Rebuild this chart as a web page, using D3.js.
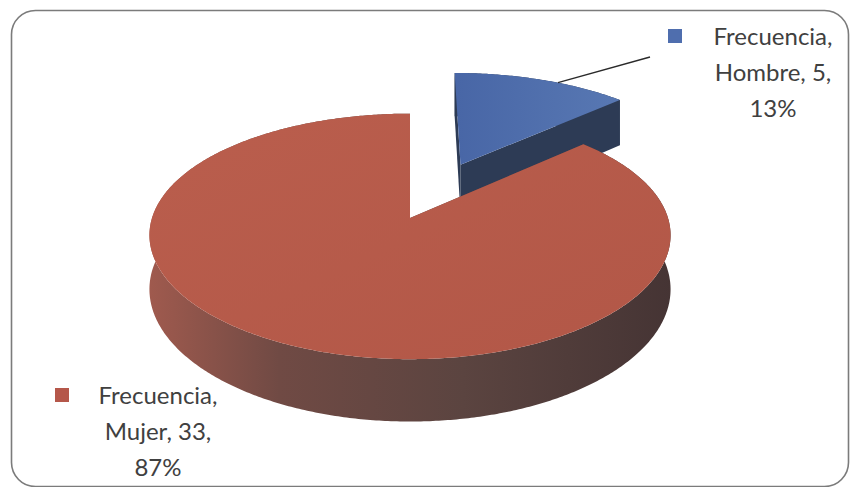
<!DOCTYPE html>
<html lang="es">

<head>
    <meta charset="UTF-8">
    <title>Frecuencia por sexo</title>
    <script src="https://cdn.jsdelivr.net/npm/d3@7/dist/d3.min.js"></script>
    <style>
        body { margin: 0; background: #fff; }
    </style>
</head>

<body>
    <svg width="851" height="487" id="mainsvg"></svg>
</body>
<script>
    // data
    const seriesName = 'Frecuencia'
    const categories = ['Hombre', 'Mujer']
    const values = [5, 33]
    const exploded = [0.52, 0]   // slice offset in radius units

    const sideColors = ['#2d3b55', '#5e4440']
    const keyColors = ['#4f6eae', '#b5574a']

    const svg = d3.select('#mainsvg')

    // frame
    svg.append('rect')
        .attr('x', 11.5).attr('y', 10.5)
        .attr('width', 837).attr('height', 476)
        .attr('rx', 24)
        .attr('fill', '#fff').attr('stroke', '#7b7b7b').attr('stroke-width', 1.6)

    // 3d pie projection
    const cx = 410, cy = 218
    const rx = 258, ry = 120
    const perspX = 0.14, perspY = 0.15
    const depth = 53 / ry

    const xScale = d3.scaleLinear().domain([-1, 1]).range([cx - rx, cx + rx])
    const yScale = d3.scaleLinear().domain([-1, 1]).range([cy - ry, cy + ry])

    const proj = (u, v, z) => [
        xScale(u / (1 - perspX * v)),
        yScale((v + depth * z) / (1 - perspY * v))
    ]

    const pie = d3.pie().sort(null).value(d => d.value)
    const data = categories.map((c, i) => ({ name: c, value: values[i], idx: i }))
    const arcs = pie(data)
    const total = d3.sum(values)

    const line = d3.line().curve(d3.curveLinearClosed)

    function arcPoints(d, z, from, to) {
        const n = Math.max(4, Math.ceil(Math.abs(to - from) / 0.01))
        return d3.range(n + 1).map(i => {
            const a = from + (to - from) * i / n
            return proj(d.ou + Math.sin(a), d.ov - Math.cos(a), z)
        })
    }

    arcs.forEach(d => {
        const mid = (d.startAngle + d.endAngle) / 2
        const e = exploded[d.data.idx]
        d.ou = e * Math.sin(mid)
        d.ov = -e * Math.cos(mid)
        d.mid = mid
    })

    const defs = svg.append('defs')
    const rim = defs.append('linearGradient').attr('id', 'rimRed')
        .attr('gradientUnits', 'userSpaceOnUse')
        .attr('x1', 148).attr('x2', 673).attr('y1', 0).attr('y2', 0)
    rim.append('stop').attr('offset', 0).attr('stop-color', '#a05a4e')
    rim.append('stop').attr('offset', 0.25).attr('stop-color', '#704a44')
    rim.append('stop').attr('offset', 0.6).attr('stop-color', '#5b4440')
    rim.append('stop').attr('offset', 1).attr('stop-color', '#453434')

    const topRed = defs.append('linearGradient').attr('id', 'topRed')
        .attr('x1', 0).attr('x2', 1).attr('y1', 0).attr('y2', 1)
    topRed.append('stop').attr('offset', 0).attr('stop-color', '#ba5e4d')
    topRed.append('stop').attr('offset', 1).attr('stop-color', '#b25747')

    const topBlue = defs.append('linearGradient').attr('id', 'topBlue')
        .attr('x1', 0).attr('x2', 1).attr('y1', 0).attr('y2', 0)
    topBlue.append('stop').attr('offset', 0).attr('stop-color', '#4866a6')
    topBlue.append('stop').attr('offset', 1).attr('stop-color', '#5878b3')

    const topFill = ['url(#topBlue)', 'url(#topRed)']
    const rimFill = [sideColors[0], 'url(#rimRed)']

    // back slices first
    const order = arcs.slice().sort((a, b) => a.ov - b.ov)
    const g = svg.append('g')

    order.forEach(d => {
        const i = d.data.idx
        const sg = g.append('g').attr('class', 'slice')

        // outer wall
        const wall = arcPoints(d, 0, d.startAngle, d.endAngle)
            .concat(arcPoints(d, 1, d.endAngle, d.startAngle))
        sg.append('path').attr('d', line(wall)).attr('fill', rimFill[i])

        // radial walls
        const c0 = proj(d.ou, d.ov, 0), c1 = proj(d.ou, d.ov, 1);
        [d.startAngle, d.endAngle].forEach(a => {
            const p0 = proj(d.ou + Math.sin(a), d.ov - Math.cos(a), 0)
            const p1 = proj(d.ou + Math.sin(a), d.ov - Math.cos(a), 1)
            sg.append('path').attr('d', line([c0, p0, p1, c1])).attr('fill', sideColors[i])
        })

        // top face
        const top = [c0].concat(arcPoints(d, 0, d.startAngle, d.endAngle))
        sg.append('path').attr('d', line(top)).attr('fill', topFill[i])
    })

    // labels
    const labelPos = [{ x: 773, y: 45, kx: 668, lead: [650, 57] }, { x: 158, y: 404, kx: 55 }]
    const lh = 36

    arcs.forEach(d => {
        const i = d.data.idx
        const pos = labelPos[i]
        const pct = Math.round(d.value / total * 100) + '%'
        const lines = [seriesName + ',', d.data.name + ', ' + d.value + ',', pct]
        const t = svg.append('text')
            .attr('font-family', 'Lato, "Open Sans", sans-serif')
            .attr('font-size', 24)
            .attr('fill', '#404040')
            .attr('text-anchor', 'middle')
        lines.forEach((s, j) => {
            t.append('tspan').attr('x', pos.x).attr('y', pos.y + j * lh).text(s)
        })
        svg.append('rect')
            .attr('x', pos.kx).attr('y', pos.y - 16)
            .attr('width', 14).attr('height', 14)
            .attr('fill', keyColors[i])

        if (pos.lead) {
            // leader line from the slice edge to the label
            const a = d.mid + 0.08
            const p = proj(d.ou + Math.sin(a), d.ov - Math.cos(a), 0)
            svg.append('line')
                .attr('x1', p[0]).attr('y1', p[1])
                .attr('x2', pos.lead[0]).attr('y2', pos.lead[1])
                .attr('stroke', '#2a2a2a').attr('stroke-width', 1.3)
        }
    })
</script>

</html>
